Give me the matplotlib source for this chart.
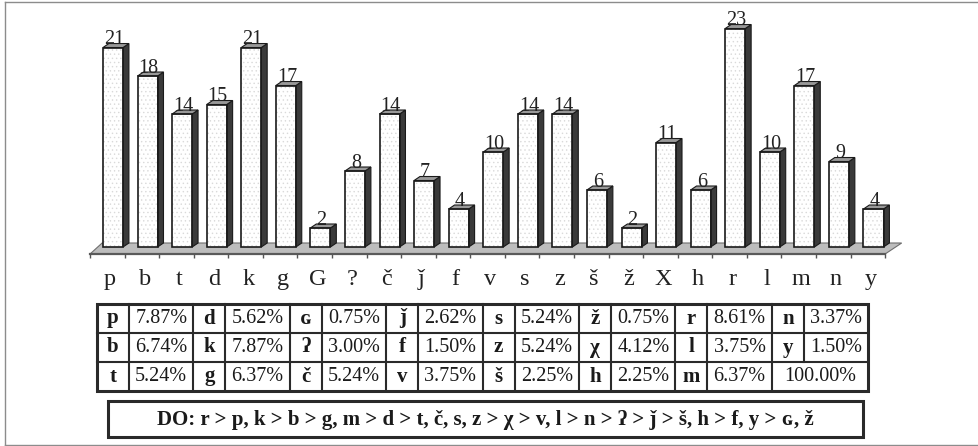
import numpy as np
import matplotlib.pyplot as plt
from matplotlib.patches import Polygon, Rectangle

plt.rcParams['font.family'] = ['Liberation Serif', 'DejaVu Serif']
plt.rcParams['hatch.linewidth'] = 0.5

# consonant counts
cats = ['p', 'b', 't', 'd', 'k', 'g', 'G', '?', 'č', 'ǰ', 'f', 'v',
        's', 'z', 'š', 'ž', 'X', 'h', 'r', 'l', 'm', 'n', 'y']
counts = [21, 18, 14, 15, 21, 17, 2, 8, 14, 7, 4, 10,
          14, 14, 6, 2, 11, 6, 23, 10, 17, 9, 4]

# labels used in the table below the chart (same order as cats)
tab_letters = ['p', 'b', 't', 'd', 'k', 'g', 'ɢ', 'ʔ', 'č', 'ǰ', 'f', 'v',
               's', 'z', 'š', 'ž', 'χ', 'h', 'r', 'l', 'm', 'n', 'y']
total_label = '100.00%'
order_text = 'DO: r > p, k > b > g, m > d > t, č, s, z > χ > v, l > n > ʔ > ǰ > š, h > f, y > ɢ, ž'

W, H = 979, 446
fig = plt.figure(figsize=(W / 100, H / 100), dpi=100)

# background axes in pixel units (frame, table, text box)
bg = fig.add_axes([0, 0, 1, 1])
bg.set_xlim(0, W)
bg.set_ylim(H, 0)
bg.axis('off')

# outer frame (no right edge visible)
fc = '#8c8c8c'
bg.plot([5, 5], [1.5, 444.5], color=fc, lw=1)
bg.plot([5, W], [1.5, 1.5], color=fc, lw=1)
bg.plot([5, W], [444.5, 444.5], color=fc, lw=1)

# ---- bar chart ----
ax = fig.add_axes([80 / W, 1 - 262 / H, 840 / W, 252 / H])
ax.patch.set_visible(False)
ax.set_xlim(-0.79, 23.51)
ax.set_ylim(-1.58, 24.95)
for s in ax.spines.values():
    s.set_visible(False)
ax.set_yticks([])

x = np.arange(len(cats))
n = len(cats)

# floor
floor_front, floor_back = -0.74, 0.42
ax.add_patch(Polygon([(-0.5, floor_front), (n - 0.5, floor_front),
                      (n - 0.02, floor_back), (-0.15, floor_back)],
                     closed=True, fc='#bdbdbd', ec='#6e6e6e', lw=0.8, zorder=1))
ax.plot([-0.5, n - 0.5], [floor_front, floor_front], color='#5a5a5a', lw=1.6, zorder=1.5)
ax.vlines(np.arange(n + 1) - 0.5, -1.16, floor_front, color='#555555', lw=1, zorder=1.5)

# bars: front face, dark side, grey top
off, bw, dx, dy = 0.165, 0.58, 0.17, 0.42
ax.bar(x + off, counts, width=bw, color='white', edgecolor='#dadada',
       hatch='....', linewidth=0, zorder=3)
ax.bar(x + off, counts, width=bw, fill=False, edgecolor='#1a1a1a',
       linewidth=1.2, zorder=4)
for xi, v in zip(x, counts):
    x0 = xi + off - bw / 2
    x1 = xi + off + bw / 2
    ax.add_patch(Polygon([(x1, 0), (x1 + dx, dy), (x1 + dx, v + dy), (x1, v)],
                         closed=True, fc='#3a3a3a', ec='#1a1a1a', lw=0.8, zorder=3))
    ax.add_patch(Polygon([(x0, v), (x1, v), (x1 + dx, v + dy), (x0 + dx, v + dy)],
                         closed=True, fc='#999999', ec='#1a1a1a', lw=0.8, zorder=3))
    ax.text(xi + off + 0.03, v + dy - 0.1, str(v), ha='center', va='baseline',
            fontsize=14.5, color='#222222', zorder=5)

ax.set_xticks(x + 0.08)
ax.set_xticklabels(cats, fontsize=17.5, color='#222222')
ax.tick_params(axis='x', length=0, pad=5)

# ---- percentage table ----
pcts = ['%.2f%%' % (100 * c / sum(counts)) for c in counts]
tx0, tx1 = 97, 868.3
rows_y = [304, 333, 362, 391]
npairs = 8
pw = (tx1 - tx0) / npairs
lw_col = 32
lc = '#2a2a2a'

bg.add_patch(Rectangle((tx0, rows_y[0]), tx1 - tx0, rows_y[-1] - rows_y[0],
                       fill=False, ec=lc, lw=2.2))
for yy in rows_y[1:-1]:
    bg.plot([tx0, tx1], [yy, yy], color=lc, lw=1.5)
for k in range(npairs):
    px = tx0 + k * pw
    if k > 0:
        bg.plot([px, px], [rows_y[0], rows_y[-1]], color=lc, lw=1.5)
    last = k == npairs - 1
    bg.plot([px + lw_col, px + lw_col], [rows_y[0], rows_y[2] if last else rows_y[-1]],
            color=lc, lw=1.5)

for idx in range(npairs * 3):
    k, r = divmod(idx, 3)
    px = tx0 + k * pw
    yc = (rows_y[r] + rows_y[r + 1]) / 2
    if idx < n:
        bg.text(px + lw_col / 2, yc, tab_letters[idx], ha='center', va='center',
                fontsize=15, fontweight='bold', color='#1a1a1a')
        bg.text(px + lw_col + (pw - lw_col) / 2, yc, pcts[idx], ha='center', va='center',
                fontsize=14.5, color='#1a1a1a')
    else:
        bg.text(px + pw / 2, yc, total_label, ha='center', va='center',
                fontsize=14.5, color='#1a1a1a')

# ---- order box ----
bg.add_patch(Rectangle((108, 401), 755, 36, fill=False, ec=lc, lw=2.2))
bg.text((108 + 863) / 2, 419.5, order_text, ha='center', va='center',
        fontsize=15, fontweight='bold', color='#1a1a1a')

fig.savefig('out.png', dpi=100, facecolor='white')
